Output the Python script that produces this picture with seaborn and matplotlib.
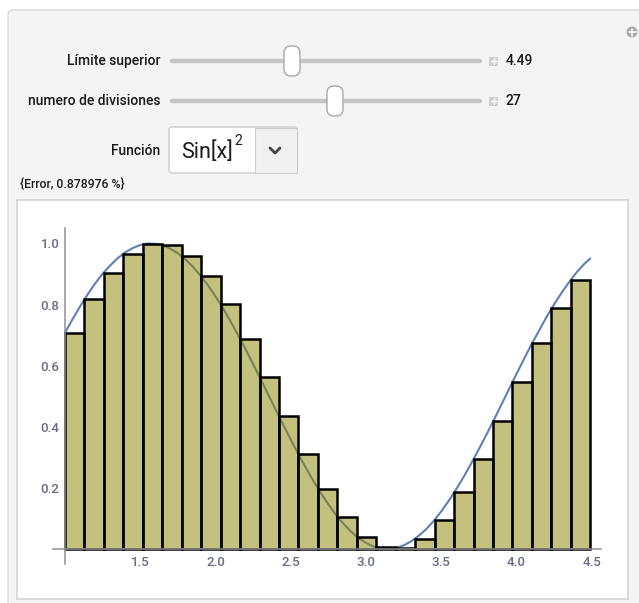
import numpy as np
import pandas as pd
import matplotlib
matplotlib.use("Agg")
import matplotlib.pyplot as plt
import seaborn as sns
from matplotlib.patches import Rectangle, FancyBboxPatch, Circle
from matplotlib.lines import Line2D
from matplotlib.transforms import IdentityTransform

# ---------------- data ----------------
lower_limit = 1.0
upper_limit = 4.49
n_divisions = 27
error_pct = "0.878976"

bar_heights = [0.708, 0.817, 0.905, 0.967, 0.997, 0.994, 0.958, 0.893, 0.801,
               0.687, 0.563, 0.434, 0.310, 0.198, 0.106, 0.040, 0.005, 0.003,
               0.034, 0.096, 0.185, 0.295, 0.419, 0.548, 0.674, 0.788, 0.882]

curve_x = [1.00, 1.05, 1.10, 1.15, 1.20, 1.25, 1.30, 1.35, 1.40, 1.45, 1.50,
           1.55, 1.60, 1.65, 1.70, 1.75, 1.80, 1.85, 1.90, 1.95, 2.00, 2.05,
           2.10, 2.15, 2.20, 2.25, 2.30, 2.35, 2.40, 2.45, 2.50, 2.55, 2.60,
           2.65, 2.70, 2.75, 2.80, 2.85, 2.90, 2.95, 3.00, 3.05, 3.10, 3.15,
           3.20, 3.25, 3.30, 3.35, 3.40, 3.45, 3.50, 3.55, 3.60, 3.65, 3.70,
           3.75, 3.80, 3.85, 3.90, 3.95, 4.00, 4.05, 4.10, 4.15, 4.20, 4.25,
           4.30, 4.35, 4.40, 4.45, 4.49]
curve_y = [0.708, 0.752, 0.794, 0.833, 0.869, 0.901, 0.928, 0.952, 0.971, 0.985,
           0.995, 1.000, 0.999, 0.994, 0.983, 0.968, 0.948, 0.924, 0.895, 0.863,
           0.827, 0.788, 0.745, 0.700, 0.654, 0.605, 0.556, 0.506, 0.456, 0.407,
           0.358, 0.311, 0.266, 0.223, 0.183, 0.146, 0.112, 0.083, 0.057, 0.036,
           0.020, 0.008, 0.002, 0.000, 0.003, 0.012, 0.025, 0.043, 0.065, 0.092,
           0.123, 0.158, 0.196, 0.237, 0.281, 0.327, 0.374, 0.423, 0.473, 0.523,
           0.573, 0.622, 0.670, 0.715, 0.760, 0.801, 0.839, 0.874, 0.906, 0.933,
           0.951]

x_tick_labels = ["1.5", "2.0", "2.5", "3.0", "3.5", "4.0", "4.5"]
y_tick_labels = ["0.2", "0.4", "0.6", "0.8", "1.0"]

# ---------------- style ----------------
sns.set_theme(style="white")
plt.rcParams["font.family"] = ["Roboto", "DejaVu Sans"]

W, H = 639, 603
fig = plt.figure(figsize=(W / 100, H / 100), dpi=100)
fig.patch.set_facecolor("white")
PX = IdentityTransform()


def P(x, y):
    return (x, H - y)


# outer panel
fig.patches.append(FancyBboxPatch(P(8, 640), 700, 630,
                                  boxstyle="round,pad=0,rounding_size=5",
                                  transform=PX, facecolor="#f4f4f4",
                                  edgecolor="#d9d9d9", linewidth=1.0, zorder=0))
# plot white box
fig.patches.append(Rectangle(P(17, 599), 611, 399, transform=PX,
                             facecolor="white", edgecolor="#d4d4d4",
                             linewidth=1.2, zorder=1))

# top-right circle icon
fig.patches.append(Circle(P(632, 32), 5.5, transform=PX, facecolor="#a8a8a8",
                          edgecolor="none", zorder=2))
fig.lines.append(Line2D([628.5, 635.5], [H - 32, H - 32], transform=PX,
                        color="white", lw=1.2, zorder=3))
fig.lines.append(Line2D([632, 632], [H - 28.5, H - 35.5], transform=PX,
                        color="white", lw=1.2, zorder=3))

label_kw = dict(transform=PX, fontsize=10, color="#1a1a1a", va="center",
                fontweight="medium")


def slider(y, thumb_x, label, value):
    fig.text(*P(160, y), label, ha="right", **label_kw)
    fig.lines.append(Line2D([172, 480], [H - y, H - y], transform=PX,
                            color="#c6c6c6", lw=3.2, solid_capstyle="round",
                            zorder=2))
    fig.patches.append(FancyBboxPatch((thumb_x - 8, H - y - 15), 16, 30,
                                      boxstyle="round,pad=0,rounding_size=7",
                                      transform=PX, facecolor="white",
                                      edgecolor="#a9a9a9", linewidth=1.0,
                                      zorder=3))
    fig.patches.append(Rectangle((489, H - y - 4.5), 9, 9, transform=PX,
                                 facecolor="#cfcfcf", edgecolor="none",
                                 zorder=2))
    fig.lines.append(Line2D([490.5, 496.5], [H - y, H - y], transform=PX,
                            color="white", lw=1.0, zorder=3))
    fig.lines.append(Line2D([493.5, 493.5], [H - y - 3, H - y + 3],
                            transform=PX, color="white", lw=1.0, zorder=3))
    fig.text(*P(506, y), value, ha="left", transform=PX, fontsize=10,
             color="#1a1a1a", va="center", fontweight="medium")


slider(61, 292, "Límite superior", f"{upper_limit:.2f}")
slider(101, 335, "numero de divisiones", str(n_divisions))

# function selector
fig.text(*P(160, 151), "Función", ha="right", **label_kw)
fig.patches.append(FancyBboxPatch(P(169, 173), 128, 46,
                                  boxstyle="round,pad=0,rounding_size=3",
                                  transform=PX, facecolor="white",
                                  edgecolor="#cccccc", linewidth=1.0, zorder=2))
fig.patches.append(Rectangle(P(255, 172.5), 41.5, 45, transform=PX,
                             facecolor="#f0f0f0", edgecolor="#cccccc",
                             linewidth=0.8, zorder=3))
fig.lines.append(Line2D([270, 275, 280], [H - 148, H - 153, H - 148],
                        transform=PX, color="#444444", lw=2.0, zorder=4,
                        solid_capstyle="round", solid_joinstyle="round"))
fig.text(*P(181, 152), "Sin[x]", transform=PX, fontsize=15.5,
         color="#1a1a1a", va="center", ha="left")
fig.text(*P(234, 141), "2", transform=PX, fontsize=10, color="#1a1a1a",
         va="center", ha="left")

fig.text(*P(20, 185), "{Error, " + error_pct + " %}", transform=PX,
         fontsize=8.8, color="#1a1a1a", va="center", ha="left",
         fontweight="medium")

# ---------------- chart ----------------
xmin, xmax, ymin, ymax = 0.90, 4.60, -0.08, 1.08
x_px = 150.5
y_px = 305.5
left_px = 65 - (lower_limit - xmin) * x_px
right_px = 65 + (xmax - lower_limit) * x_px
top_px = 549 - ymax * y_px
bot_px = 549 - ymin * y_px
ax = fig.add_axes([left_px / W, 1 - bot_px / H,
                   (right_px - left_px) / W, (bot_px - top_px) / H])
ax.patch.set_alpha(0)
ax.set_zorder(5)

width = (upper_limit - lower_limit) / n_divisions
lefts = [lower_limit + i * width for i in range(n_divisions)]

curve_df = pd.DataFrame({"x": curve_x, "y": curve_y})
sns.lineplot(data=curve_df, x="x", y="y", ax=ax, color="#5e81b5",
             linewidth=1.5, zorder=2, sort=True)

ax.bar(lefts, bar_heights, width=width, align="edge",
       facecolor=(0.56, 0.525, 0.035, 0.52), edgecolor="black",
       linewidth=1.8, zorder=3)

ax.set_xlim(xmin, xmax)
ax.set_ylim(ymin, ymax)
ax.set_xlabel("")
ax.set_ylabel("")

for s in ("top", "right"):
    ax.spines[s].set_visible(False)
axis_col = "#8f8f8f"
ax.spines["left"].set_position(("data", lower_limit))
ax.spines["left"].set_bounds(-0.048, 1.05)
ax.spines["bottom"].set_position(("data", 0))
ax.spines["bottom"].set_bounds(0.92, 4.56)
for s in ("left", "bottom"):
    ax.spines[s].set_color(axis_col)
    ax.spines[s].set_linewidth(1.1)
    ax.spines[s].set_zorder(4)

xt = [float(t) for t in x_tick_labels]
yt = [float(t) for t in y_tick_labels]
ax.set_xticks(xt)
ax.set_xticklabels(x_tick_labels)
ax.set_yticks(yt)
ax.set_yticklabels(y_tick_labels)
xminor = [v for v in np.round(np.arange(1.1, 4.55, 0.1), 2) if v not in xt]
yminor = [v for v in np.round(np.arange(0.05, 1.01, 0.05), 2) if v not in yt]
ax.set_xticks(xminor, minor=True)
ax.set_yticks(yminor, minor=True)

ax.tick_params(axis="both", which="major", direction="in", length=5,
               width=0.9, color=axis_col, labelsize=9.5, labelcolor="#666c85")
ax.tick_params(axis="both", which="minor", direction="in", length=3,
               width=0.8, color=axis_col)
ax.tick_params(axis="x", which="major", pad=5)
ax.tick_params(axis="y", which="major", pad=4)
for lab in ax.get_xticklabels() + ax.get_yticklabels():
    lab.set_fontweight("medium")
ax.grid(False)

fig.savefig("out.png", dpi=100)
